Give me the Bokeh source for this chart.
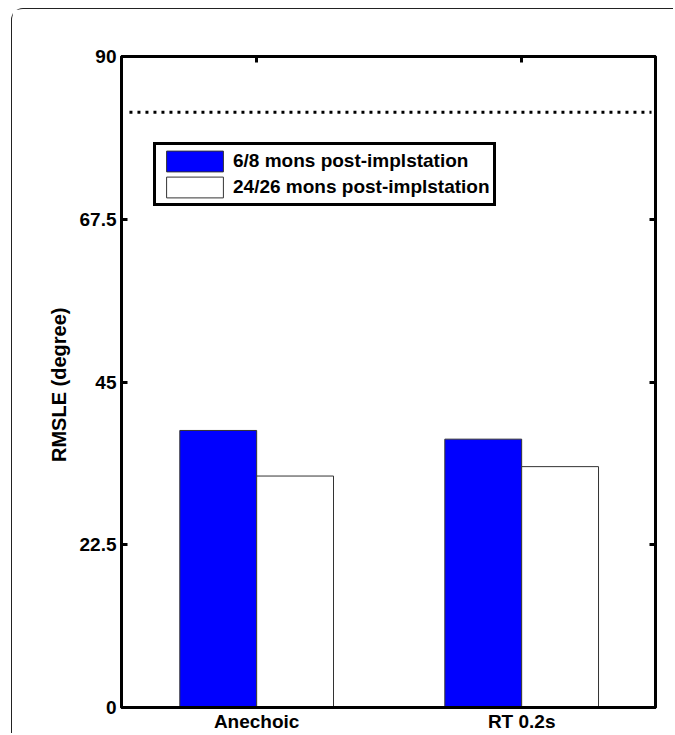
from bokeh.plotting import figure
from bokeh.models import (Range1d, FixedTicker, LinearAxis, Legend, LegendItem,
                          ColumnDataSource)
from bokeh.transform import dodge
from bokeh.embed import file_html
from bokeh.resources import INLINE

# ---- data ----
categories = ["Anechoic", "RT 0.2s"]
cat_pos = [1, 2]
series_early = [38.3, 37.1]     # 6/8 mons post-implstation
series_late = [32.0, 33.3]      # 24/26 mons post-implstation
series_names = ["6/8 mons post-implstation", "24/26 mons post-implstation"]
ref_x = [0.52, 2.49]            # dotted reference line extent
ref_y = [82.3, 82.3]
y_ticks = [0, 22.5, 45, 67.5, 90]
y_tick_labels = ["0", "22.5", "45", "67.5", "90"]

FONT = "Liberation Sans"

src = ColumnDataSource(dict(x=cat_pos, early=series_early, late=series_late))

p = figure(width=662, height=725, output_backend="svg", toolbar_location=None,
           x_range=Range1d(0.49, 2.505), y_range=Range1d(0, 90),
           min_border_left=109, min_border_top=47, min_border_right=19,
           min_border_bottom=26)
p.margin = (8, 0, 0, 11)
p.styles = {"border-top": "1px solid #222", "border-left": "1px solid #222",
            "border-top-left-radius": "12px"}
p.grid.visible = False
p.outline_line_color = "black"
p.outline_line_width = 3
p.background_fill_color = "white"
p.border_fill_color = "white"

bw = 0.29
r1 = p.vbar(x=dodge("x", -bw / 2), top="early", width=bw, source=src,
            fill_color="#0000ff", line_color="#333333", line_width=1)
r2 = p.vbar(x=dodge("x", bw / 2), top="late", width=bw, source=src,
            fill_color="white", line_color="#333333", line_width=1)

p.line(ref_x, ref_y, line_color="black", line_width=3, line_dash="3 5")

# left axis
ya = p.yaxis[0]
ya.ticker = FixedTicker(ticks=y_ticks)
ya.major_label_overrides = {t: l for t, l in zip(y_ticks, y_tick_labels)}
ya.major_label_text_font = FONT
ya.major_label_text_font_style = "bold"
ya.major_label_text_font_size = "19px"
ya.major_label_text_color = "black"
ya.major_label_standoff = 5
ya.major_tick_in = 6
ya.major_tick_out = 0
ya.major_tick_line_width = 3
ya.minor_tick_line_color = None
ya.axis_line_width = 3
ya.axis_label = "RMSLE  (degree)"
ya.axis_label_text_font = FONT
ya.axis_label_text_font_style = "bold"
ya.axis_label_text_font_size = "20px"
ya.axis_label_text_color = "black"
ya.axis_label_standoff = 7

# bottom axis
xa = p.xaxis[0]
xa.ticker = FixedTicker(ticks=cat_pos)
xa.major_label_overrides = {c: n for c, n in zip(cat_pos, categories)}
xa.major_label_text_font = FONT
xa.major_label_text_font_style = "bold"
xa.major_label_text_font_size = "19px"
xa.major_label_text_color = "black"
xa.major_label_standoff = 3
xa.major_tick_in = 0
xa.major_tick_out = 0
xa.minor_tick_line_color = None
xa.axis_line_width = 3

# right axis (ticks only)
ra = LinearAxis(ticker=FixedTicker(ticks=y_ticks), major_label_text_font_size="1px",
                major_label_text_color=None, major_label_standoff=0,
                major_tick_in=6, major_tick_out=0,
                major_tick_line_width=3, minor_tick_line_color=None, axis_line_width=3)
p.add_layout(ra, "right")

# top axis (ticks only)
ta = LinearAxis(ticker=FixedTicker(ticks=cat_pos), major_label_text_font_size="1px",
                major_label_text_color=None, major_label_standoff=0,
                major_tick_in=6, major_tick_out=0,
                major_tick_line_width=3, minor_tick_line_color=None, axis_line_width=3)
p.add_layout(ta, "above")

legend = Legend(items=[LegendItem(label=series_names[0], renderers=[r1]),
                       LegendItem(label=series_names[1], renderers=[r2])],
                location=(32, 501), margin=0, padding=3, spacing=0,
                glyph_width=71, glyph_height=26, label_standoff=3,
                label_text_font=FONT, label_text_font_style="bold",
                label_text_font_size="19px", label_text_color="black",
                border_line_color="black", border_line_alpha=1,
                border_line_width=3, background_fill_alpha=1)
p.add_layout(legend, "center")

open("out.html", "w").write(file_html(p, INLINE))
